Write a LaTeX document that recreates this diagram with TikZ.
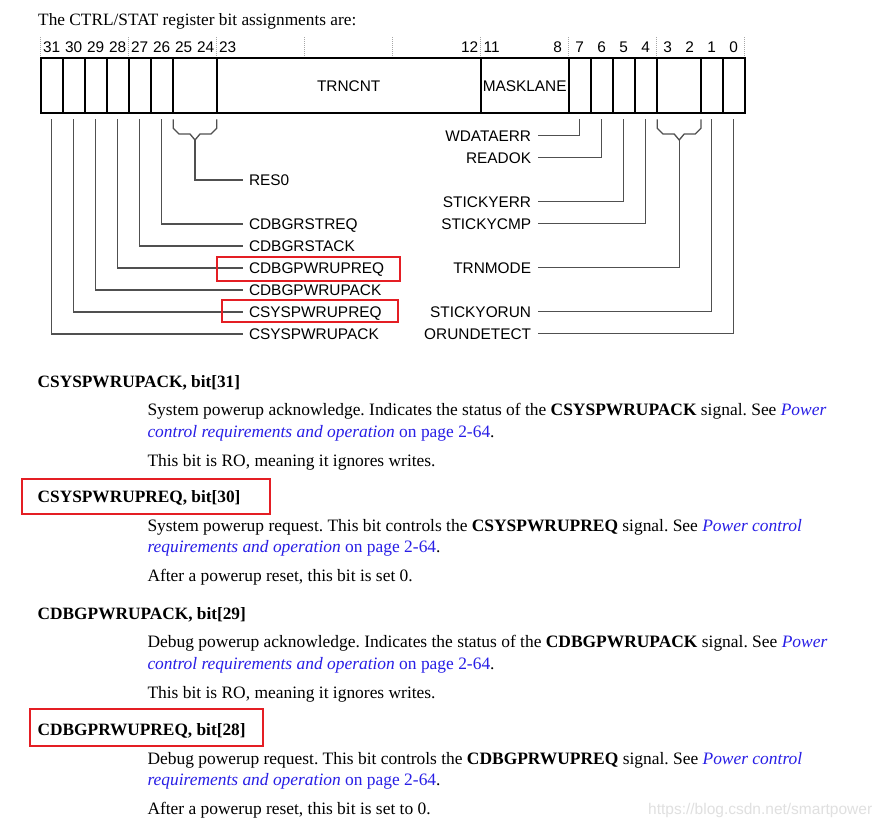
\documentclass[tikz,border=0pt]{standalone}
\usepackage{fontspec}
\setmainfont{Liberation Serif}
\newfontfamily\arialf{Liberation Sans}
\definecolor{lnkc}{RGB}{40,30,230}
\definecolor{redc}{RGB}{228,30,36}
\definecolor{connc}{RGB}{80,80,80}
\newcommand\lnkt[1]{\textcolor{lnkc}{#1}}
\frenchspacing
\begin{document}
\begin{tikzpicture}[x=1pt,y=-1pt,
  serif/.style={font=\fontsize{17.3}{20}\selectfont, anchor=base west, inner sep=0pt},
  body/.style={font=\fontsize{17.43}{20}\selectfont, anchor=base west, inner sep=0pt},
  hdr/.style={font=\arialf\fontsize{15.4}{18}\selectfont, anchor=base, inner sep=0pt},
  lab/.style={font=\arialf\fontsize{15.4}{18}\selectfont, inner ysep=0pt, text height=11pt, text depth=0pt},
  llab/.style={lab, anchor=west, inner xsep=5.5pt},
  rlab/.style={lab, anchor=east, inner xsep=7pt},
  conn/.style={draw=connc, line width=1.3pt},
  regline/.style={draw=black, line width=1.7pt},
  sepline/.style={draw=black!35, line width=0.8pt, dash pattern=on 1pt off 1pt},
  hl/.style={draw=redc, line width=2pt}]
\useasboundingbox[fill=white] (0,0) rectangle (886,828);

% title
\node[serif] (intro) at (38,25) {The CTRL/STAT register bit assignments are:};

% header separators
\foreach \k in {0,...,8} \draw[sepline] ({40.7+\k*88},37) -- ({40.7+\k*88},57);
% header numbers
\foreach \b in {31,30,29,28,27,26,25,24,23,12,11,8,7,6,5,4,3,2,1,0}
  \node[hdr] (h\b) at ({51.7+(31-\b)*22},52.7) {\b};

% register box
\draw[regline] (40.7,58) rectangle (744.7,113);
\foreach \xx in {62.7,84.7,106.7,128.7,150.7,172.7,216.7,480.7,568.7,590.7,612.7,634.7,656.7,700.7,722.7}
  \draw[regline] (\xx,58) -- (\xx,113);
\node[hdr] (trncnt) at (348.7,91.3) {TRNCNT};
\node[hdr] (masklane) at (524.7,91.3) {MASKLANE};

% connector start points
\foreach \b in {31,30,29,28,27,26,7,6,5,4,1,0}
  \coordinate (b\b) at ({51.7+(31-\b)*22},119.3);

% left labels
\node[llab] (l31) at (243.3,334) {CSYSPWRUPACK};
\node[llab] (l30) at (243.3,312) {CSYSPWRUPREQ};
\node[llab] (l29) at (243.3,290) {CDBGPWRUPACK};
\node[llab] (l28) at (243.3,268) {CDBGPWRUPREQ};
\node[llab] (l27) at (243.3,246) {CDBGRSTACK};
\node[llab] (l26) at (243.3,224) {CDBGRSTREQ};
\node[llab] (res0) at (243.3,180) {RES0};

% right labels
\node[rlab] (r7) at (538.3,135.5) {WDATAERR};
\node[rlab] (r6) at (538.3,157.5) {READOK};
\node[rlab] (r5) at (538.3,201.5) {STICKYERR};
\node[rlab] (r4) at (538.3,223.5) {STICKYCMP};
\node[rlab] (r32) at (538.3,267.5) {TRNMODE};
\node[rlab] (r1) at (538.3,311.5) {STICKYORUN};
\node[rlab] (r0) at (538.3,333.5) {ORUNDETECT};

% left connectors
\foreach \b in {31,30,29,28,27,26} \draw[conn] (b\b) |- (l\b.west);
% right connectors
\foreach \b in {7,6,5,4,1,0} \draw[conn] (b\b) |- (r\b.east);

% brackets
\coordinate (br1) at (195,140);
\draw[conn] (173.3,119.3) -- (173.3,128.3) -- (179,134) -- (190,134) -- (br1)
  -- (200,134) -- (211,134) -- (216.7,128.3) -- (216.7,119.3);
\draw[conn] (br1) |- (res0.west);
\coordinate (br2) at (679.2,140);
\draw[conn] (657.3,119.3) -- (657.3,128.3) -- (663,134) -- (674.2,134) -- (br2)
  -- (684.2,134) -- (695.3,134) -- (701,128.3) -- (701,119.3);
\draw[conn] (br2) |- (r32.east);

% red highlights in diagram
\draw[hl] (217.3,256.7) rectangle (400,280.7);
\draw[hl] (221.7,300) rectangle (397.7,322.3);

% section 1
\node[serif] (t1) at (37.5,387) {\textbf{CSYSPWRUPACK, bit[31]}};
\node[body] (s1a) at (147.3,415.5) {System powerup acknowledge. Indicates the status of the \textbf{CSYSPWRUPACK} signal. See \lnkt{\textit{Power}}};
\node[body] (s1b) at (147.3,437.3) {\lnkt{\textit{control requirements and operation} on page 2-64}.};
\node[body] (s1c) at (147.3,466) {This bit is RO, meaning it ignores writes.};

% section 2
\node[serif] (t2) at (37.5,502.5) {\textbf{CSYSPWRUPREQ, bit[30]}};
\node[body] (s2a) at (147.3,531) {System powerup request. This bit controls the \textbf{CSYSPWRUPREQ} signal. See \lnkt{\textit{Power control}}};
\node[body] (s2b) at (147.3,552.8) {\lnkt{\textit{requirements and operation} on page 2-64}.};
\node[body] (s2c) at (147.3,581.5) {After a powerup reset, this bit is set 0.};
\draw[hl] (21.7,479.3) rectangle (270,514.3);

% section 3
\node[serif] (t3) at (37.5,619) {\textbf{CDBGPWRUPACK, bit[29]}};
\node[body] (s3a) at (147.3,647.5) {Debug powerup acknowledge. Indicates the status of the \textbf{CDBGPWRUPACK} signal. See \lnkt{\textit{Power}}};
\node[body] (s3b) at (147.3,669.3) {\lnkt{\textit{control requirements and operation} on page 2-64}.};
\node[body] (s3c) at (147.3,698) {This bit is RO, meaning it ignores writes.};

% section 4
\node[serif] (t4) at (37.5,735.5) {\textbf{CDBGPRWUPREQ, bit[28]}};
\node[body] (s4a) at (147.3,764) {Debug powerup request. This bit controls the \textbf{CDBGPRWUPREQ} signal. See \lnkt{\textit{Power control}}};
\node[body] (s4b) at (147.3,785.8) {\lnkt{\textit{requirements and operation} on page 2-64}.};
\node[body] (s4c) at (147.3,814.5) {After a powerup reset, this bit is set to 0.};
\draw[hl] (29.5,709) rectangle (263.3,746);

% watermark
\node[anchor=base west, inner sep=0pt, text=black!12, font=\arialf\fontsize{15.5}{18}\selectfont] (wm) at (648,814.5) {https://blog.csdn.net/smartpower};
\end{tikzpicture}
\end{document}
